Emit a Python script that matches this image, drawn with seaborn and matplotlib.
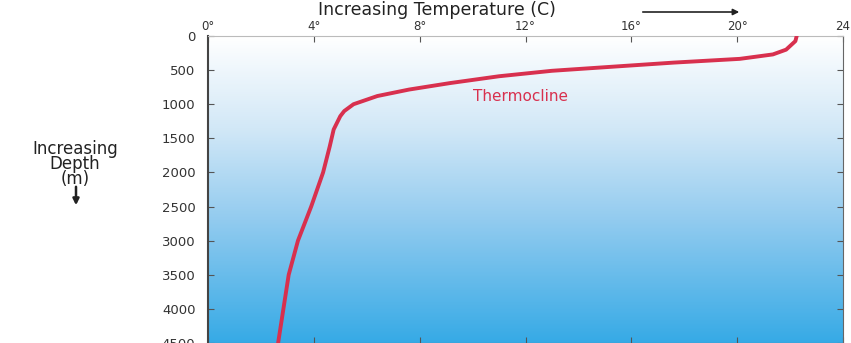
import numpy as np
import matplotlib
matplotlib.use("Agg")
import matplotlib.pyplot as plt
import seaborn as sns
from matplotlib.colors import LinearSegmentedColormap

depth = [0, 75, 200, 270, 335, 390, 455, 510, 590, 690, 785, 880, 1000,
         1100, 1175, 1370, 1620, 2000, 2500, 3000, 3500, 4000, 4500]
temp = [22.25, 22.2, 21.85, 21.35, 20.1, 17.6, 15.1, 13.0, 11.0, 9.15, 7.6, 6.4, 5.5,
        5.15, 5.0, 4.75, 4.6, 4.35, 3.9, 3.4, 3.05, 2.85, 2.65]

x_ticks = [0, 4, 8, 12, 16, 20, 24]
x_labels = ["0°", "4°", "8°", "12°", "16°", "20°", "24"]
y_ticks = [0, 500, 1000, 1500, 2000, 2500, 3000, 3500, 4000, 4500]

sns.set_style("white")
plt.rcParams['font.family'] = ['DejaVu Sans']

fig = plt.figure(figsize=(8.51, 3.43), dpi=100)
ax = fig.add_axes([208 / 851, 0.0, (843 - 208) / 851, 1 - 36 / 343])

# background gradient, white at surface to blue at depth
cmap = LinearSegmentedColormap.from_list(
    "sea", [(0, "#ffffff"), (0.3, "#d2e8f7"), (0.6, "#92cbef"), (1, "#36aae6")])
grad = np.linspace(0, 1, 256).reshape(-1, 1)
ax.imshow(grad, cmap=cmap, aspect="auto", extent=[0, 24, 4500, 0], zorder=0)

line = sns.lineplot(x=temp, y=depth, sort=False, color="#d8304e", lw=2.8, ax=ax, zorder=3)
for ln in ax.lines:
    ln.set_solid_joinstyle("round")

ax.set_xlim(0, 24)
ax.set_ylim(4500, 0)
ax.xaxis.tick_top()
ax.set_xticks(x_ticks)
ax.set_xticklabels(x_labels)
ax.set_yticks(y_ticks)
ax.set_yticklabels([str(v) for v in y_ticks])
ax.tick_params(axis="both", direction="in", length=4, width=0.8, color="#555555",
               labelsize=9.5, labelcolor="#333333",
               top=True, bottom=True, left=True, right=True)
ax.tick_params(axis="x", pad=2, labelsize=8.5)
ax.tick_params(axis="y", pad=9)
ax.set_xlabel("")
ax.set_ylabel("")

for side, sp in ax.spines.items():
    sp.set_color("#666666")
    sp.set_linewidth(0.8)
ax.spines["top"].set_color("#bbbbbb")
ax.spines["left"].set_color("#444444")
ax.spines["left"].set_linewidth(1.5)

ax.text(11.8, 880, "Thermocline", color="#d8304e", fontsize=11,
        ha="center", va="center", zorder=4)

fig.text(318 / 851, 1 - 10 / 343, "Increasing Temperature (C)", fontsize=12.5,
         ha="left", va="center", color="#222222")
fig.add_artist(matplotlib.patches.FancyArrowPatch(
    (640 / 851, 1 - 12 / 343), (742 / 851, 1 - 12 / 343),
    transform=fig.transFigure, arrowstyle="-|>", mutation_scale=9,
    color="#222222", lw=1.2))

fig.text(75 / 851, 1 - 164 / 343, "Increasing\nDepth\n(m)", fontsize=12,
         ha="center", va="center", color="#222222", linespacing=0.8)
fig.add_artist(matplotlib.patches.FancyArrowPatch(
    (76 / 851, 1 - 184 / 343), (76 / 851, 1 - 208 / 343),
    transform=fig.transFigure, arrowstyle="-|>", mutation_scale=9,
    color="#222222", lw=1.8))

fig.savefig("out.png", dpi=100)
